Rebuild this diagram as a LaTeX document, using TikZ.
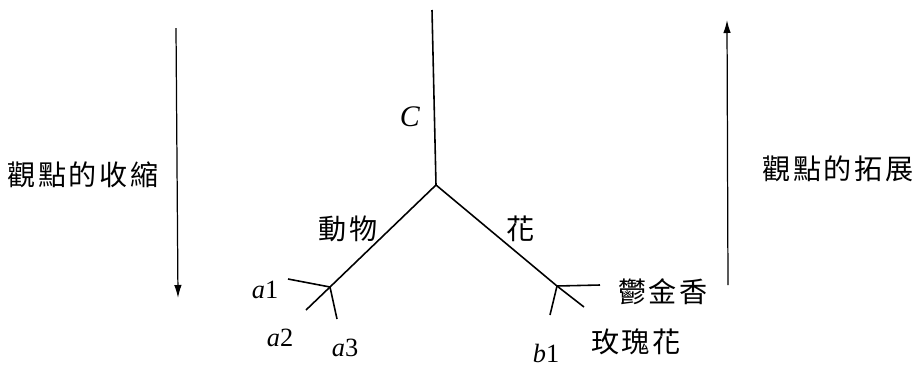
\documentclass[tikz,border=0pt]{standalone}
\usepackage{fontspec}
\setmainfont{Liberation Serif}
\newfontfamily\cjk[LetterSpace=9]{Noto Sans CJK TC}
\usetikzlibrary{arrows.meta}
\tikzstyle{branch} = [line width=0.9pt]
\tikzstyle{arrow} = [line width=0.7pt, -{Latex[length=2.6mm, width=1.5mm]}]
\tikzstyle{cjklabel} = [font=\cjk\fontsize{16}{16}\selectfont, inner sep=0pt]
\tikzstyle{leaf} = [font=\fontsize{15}{15}\selectfont, inner sep=0pt]

\begin{document}
\begin{tikzpicture}[x=0.02cm, y=-0.02cm]
    \useasboundingbox (0,0) rectangle (917,366);
    % tree
    \coordinate (top) at (432,10);
    \coordinate (root) at (436,185);
    \coordinate (ja) at (330,287);
    \coordinate (jb) at (557,286);
    \coordinate (ea1) at (288,279);
    \coordinate (ea2) at (306,310);
    \coordinate (ea3) at (337,319);
    \coordinate (eb0) at (584,307);
    \coordinate (eb1) at (550,315);
    \coordinate (eb2) at (600,285);
    \draw[branch] (top) -- (root);
    \draw[branch] (root) -- (ja);
    \draw[branch] (root) -- (jb) -- (eb0);
    \draw[branch] (ja) -- (ea1);
    \draw[branch] (ja) -- (ea2);
    \draw[branch] (ja) -- (ea3);
    \draw[branch] (jb) -- (eb1);
    \draw[branch] (jb) -- (eb2);
    % labels
    \node[leaf, font=\fontsize{17}{17}\selectfont] (c) at (410,117) {\textit{C}};
    \node[cjklabel] (animal) at (348,229) {動物};
    \node[cjklabel] (flower) at (521,229) {花};
    \node[leaf] (a1) at (265,290) {\textit{a}1};
    \node[leaf] (a2) at (280,338) {\textit{a}2};
    \node[leaf] (a3) at (345,348) {\textit{a}3};
    \node[leaf] (b1) at (546,353) {\textit{b}1};
    \node[cjklabel] (tulip) at (663,292) {鬱金香};
    \node[cjklabel] (rose) at (636,342) {玫瑰花};
    % viewpoint arrows
    \coordinate (lt) at (176,28);
    \coordinate (lb) at (178,298);
    \coordinate (rb) at (728,285);
    \coordinate (rt) at (727,20);
    \draw[arrow] (lt) -- (lb);
    \draw[arrow] (rb) -- (rt);
    \node[cjklabel] (shrink) at (83,175) {觀點的收縮};
    \node[cjklabel] (expand) at (838,169) {觀點的拓展};
\end{tikzpicture}
\end{document}
